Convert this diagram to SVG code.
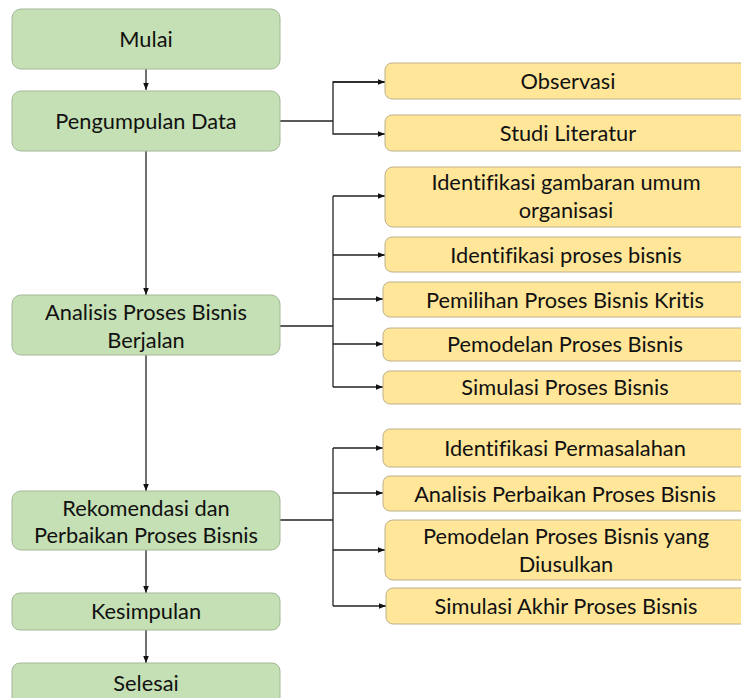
<svg xmlns="http://www.w3.org/2000/svg" width="741" height="698" viewBox="0 0 741 698">
<defs>
<style>
.g{fill:#C5E0B4;stroke:#A3B898;stroke-width:1}
.y{fill:#FFE699;stroke:#BDB08A;stroke-width:1}
text{font-family:Lato,"Liberation Sans",sans-serif;font-size:21.8px;fill:#111;text-anchor:middle;font-variant-ligatures:none}
.c{fill:none;stroke:#222;stroke-width:1.3}
</style>
<marker id="a" viewBox="0 0 10 10" refX="10" refY="5" markerWidth="7" markerHeight="7" markerUnits="userSpaceOnUse" orient="auto"><path d="M0,1 L10,5 L0,9 Z" fill="#111"/></marker>
</defs>
<rect width="741" height="698" fill="#fff"/>
<g id="connectors">
<path class="c" d="M146,69 V90" marker-end="url(#a)"/>
<path class="c" d="M146,150 V295" marker-end="url(#a)"/>
<path class="c" d="M146,355 V491" marker-end="url(#a)"/>
<path class="c" d="M146,550 V593" marker-end="url(#a)"/>
<path class="c" d="M146,630 V663" marker-end="url(#a)"/>
<path class="c" d="M280,121 H333"/>
<path class="c" d="M385,82 H333 V134 H385" marker-end="url(#a)"/>
<path class="c" d="M333,82 H385" marker-end="url(#a)"/>
<path class="c" d="M280,326 H333"/>
<path class="c" d="M333,196 V387"/>
<path class="c" d="M333,196 H385" marker-end="url(#a)"/>
<path class="c" d="M333,255 H385" marker-end="url(#a)"/>
<path class="c" d="M333,299 H383" marker-end="url(#a)"/>
<path class="c" d="M333,344 H383" marker-end="url(#a)"/>
<path class="c" d="M333,387 H383" marker-end="url(#a)"/>
<path class="c" d="M280,520 H333"/>
<path class="c" d="M333,448 V606"/>
<path class="c" d="M333,448 H383" marker-end="url(#a)"/>
<path class="c" d="M333,493 H383" marker-end="url(#a)"/>
<path class="c" d="M333,550 H385" marker-end="url(#a)"/>
<path class="c" d="M333,606 H386" marker-end="url(#a)"/>
</g>
<g id="mulai"><rect class="g" x="12" y="9" width="268" height="60" rx="9"/><text x="146" y="47">Mulai</text></g>
<g id="pengumpulan"><rect class="g" x="12" y="91" width="268" height="60" rx="9"/><text x="146" y="129">Pengumpulan Data</text></g>
<g id="analisis"><rect class="g" x="12" y="295" width="268" height="60" rx="9"/><text x="146" y="320">Analisis Proses Bisnis</text><text x="146" y="348">Berjalan</text></g>
<g id="rekomendasi"><rect class="g" x="12" y="491" width="268" height="59" rx="9"/><text x="146" y="516">Rekomendasi dan</text><text x="146" y="543">Perbaikan Proses Bisnis</text></g>
<g id="kesimpulan"><rect class="g" x="12" y="593" width="268" height="37" rx="8"/><text x="146" y="619">Kesimpulan</text></g>
<g id="selesai"><rect class="g" x="12" y="663" width="268" height="45" rx="8"/><text x="146" y="691">Selesai</text></g>
<g id="observasi"><rect class="y" x="385" y="63" width="366" height="36" rx="7"/><text x="568" y="89">Observasi</text></g>
<g id="studi"><rect class="y" x="385" y="115" width="366" height="36" rx="7"/><text x="568" y="141">Studi Literatur</text></g>
<g id="identifikasi-gambaran"><rect class="y" x="385" y="167" width="366" height="60" rx="8"/><text x="566" y="190">Identifikasi gambaran umum</text><text x="566" y="218">organisasi</text></g>
<g id="identifikasi-proses"><rect class="y" x="385" y="237" width="366" height="35" rx="7"/><text x="566" y="263">Identifikasi proses bisnis</text></g>
<g id="pemilihan"><rect class="y" x="383" y="282" width="368" height="35" rx="7"/><text x="565" y="308">Pemilihan Proses Bisnis Kritis</text></g>
<g id="pemodelan"><rect class="y" x="383" y="328" width="368" height="33" rx="7"/><text x="565" y="352">Pemodelan Proses Bisnis</text></g>
<g id="simulasi"><rect class="y" x="383" y="371" width="368" height="33" rx="7"/><text x="565" y="395">Simulasi Proses Bisnis</text></g>
<g id="identifikasi-permasalahan"><rect class="y" x="383" y="429" width="368" height="38" rx="7"/><text x="565" y="456">Identifikasi Permasalahan</text></g>
<g id="analisis-perbaikan"><rect class="y" x="383" y="476" width="368" height="35" rx="7"/><text x="565" y="502">Analisis Perbaikan Proses Bisnis</text></g>
<g id="pemodelan-usulan"><rect class="y" x="385" y="520" width="366" height="60" rx="8"/><text x="566" y="544">Pemodelan Proses Bisnis yang</text><text x="566" y="572">Diusulkan</text></g>
<g id="simulasi-akhir"><rect class="y" x="386" y="588" width="365" height="36" rx="7"/><text x="566" y="614">Simulasi Akhir Proses Bisnis</text></g>
</svg>
